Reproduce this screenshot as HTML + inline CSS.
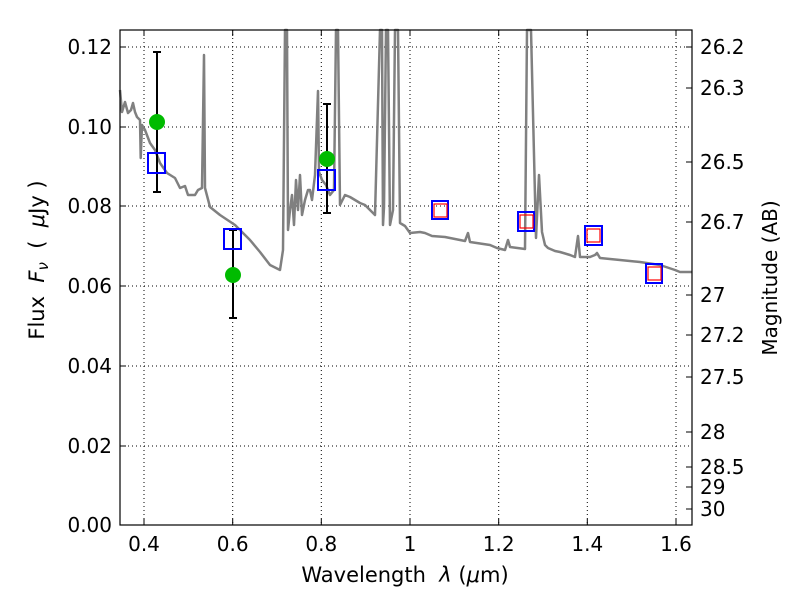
<!DOCTYPE html>
<html><head><style>body{margin:0;background:#fff}</style></head><body>
<svg width="800" height="600" xmlns="http://www.w3.org/2000/svg" font-family="DejaVu Sans, Liberation Sans, sans-serif">
<rect width="800" height="600" fill="#fff"/>
<g stroke="#000" stroke-width="1" stroke-dasharray="1,3">
<line x1="144" y1="30" x2="144" y2="525"/><line x1="232.7" y1="30" x2="232.7" y2="525"/><line x1="321.3" y1="30" x2="321.3" y2="525"/><line x1="410" y1="30" x2="410" y2="525"/><line x1="498.7" y1="30" x2="498.7" y2="525"/><line x1="587.3" y1="30" x2="587.3" y2="525"/><line x1="676" y1="30" x2="676" y2="525"/>
<line x1="120" y1="47" x2="692" y2="47"/><line x1="120" y1="127" x2="692" y2="127"/><line x1="120" y1="206" x2="692" y2="206"/><line x1="120" y1="286" x2="692" y2="286"/><line x1="120" y1="366" x2="692" y2="366"/><line x1="120" y1="446" x2="692" y2="446"/>
</g>
<polyline fill="none" stroke="#808080" stroke-width="2.5" stroke-linejoin="round" points="120,90 122,112 125,102 128,113 131,110 133,103 135,112 137,117 140,120 140.7,158 142,125 145,130 150,143 155,150 160,163 167,173 175,178 180,188 185,186 188,195 195,195 198,190 202,188 204,55 205,188 210,207 220,215 235,225 250,240 260,252 270,265 280,270 283,250 285,30 287,30 288,230 290,210 292,195 294,225 296,180 298,210 300,175 302,215 305,200 308,190 310,190 312,200 315,175 318,91 319,172 322,180 326,185 330,195 334,190 336,30 338,30 340,205 345,195 350,197 355,200 360,203 365,205 370,210 375,215 380,30 382,30 383,225 384,207 386,30 388,30 390,225 393,210 395,30 398,30 400,223 405,226 410,233 420,232 425,233 432,236 445,237 460,240 465,241 468,233 470,242 490,245 497,248 505,250 508,240 510,247 525,249 527,30 531,30 536,238 539,175 542,232 545,245 548,248 555,251 560,252 570,255 575,257 578,236 580,257 590,257 595,255 597,253 600,258 620,260 640,262 660,265 675,270 680,272 692,272"/>
<g stroke="#000" stroke-width="2">
<line x1="157" y1="52" x2="157" y2="192"/><line x1="153" y1="52" x2="161" y2="52"/><line x1="153" y1="192" x2="161" y2="192"/>
<line x1="233" y1="230" x2="233" y2="318"/><line x1="229" y1="230" x2="237" y2="230"/><line x1="229" y1="318" x2="237" y2="318"/>
<line x1="327" y1="104" x2="327" y2="213"/><line x1="323" y1="104" x2="331" y2="104"/><line x1="323" y1="213" x2="331" y2="213"/>
</g>
<g fill="#00bb00"><circle cx="157" cy="122" r="8"/><circle cx="233" cy="275" r="8"/><circle cx="327" cy="159" r="8"/></g>
<g fill="none" stroke="#00f" stroke-width="2">
<rect x="148" y="153" width="17" height="20"/><rect x="224" y="229" width="17" height="20"/><rect x="318" y="170" width="17" height="20"/>
<rect x="432" y="201" width="16" height="18"/><rect x="518" y="212" width="16" height="19"/><rect x="585" y="226" width="17" height="19"/><rect x="646" y="264" width="16" height="19"/>
</g>
<g fill="none" stroke="#f00" stroke-width="1.2">
<rect x="434" y="204" width="13" height="13"/><rect x="520" y="215" width="13" height="13"/><rect x="587" y="229" width="13" height="13"/><rect x="648" y="267" width="13" height="13"/>
</g>
<rect x="120" y="30" width="572" height="495" fill="none" stroke="#000" stroke-width="1.2"/>
<g stroke="#000" stroke-width="1">
<path d="M144,525v-6M232.7,525v-6M321.3,525v-6M410,525v-6M498.7,525v-6M587.3,525v-6M676,525v-6M144,30v6M232.7,30v6M321.3,30v6M410,30v6M498.7,30v6M587.3,30v6M676,30v6"/>
<path d="M120,47h6M120,127h6M120,206h6M120,286h6M120,366h6M120,446h6"/>
<path d="M692,47h-6M692,88h-6M692,162h-6M692,222h-6M692,295h-6M692,335h-6M692,377h-6M692,432h-6M692,467h-6M692,487h-6M692,509h-6"/>
</g>
<g font-size="20" text-anchor="end">
<text x="112" y="54">0.12</text><text x="112" y="134">0.10</text><text x="112" y="213">0.08</text><text x="112" y="293">0.06</text><text x="112" y="373">0.04</text><text x="112" y="453">0.02</text><text x="112" y="532">0.00</text>
</g>
<g font-size="20" text-anchor="middle">
<text x="144" y="551">0.4</text><text x="232.7" y="551">0.6</text><text x="321.3" y="551">0.8</text><text x="410" y="551">1</text><text x="498.7" y="551">1.2</text><text x="587.3" y="551">1.4</text><text x="676" y="551">1.6</text>
</g>
<g font-size="20">
<text x="700" y="54">26.2</text><text x="700" y="95">26.3</text><text x="700" y="169">26.5</text><text x="700" y="229">26.7</text><text x="700" y="302">27</text><text x="700" y="342">27.2</text><text x="700" y="384">27.5</text><text x="700" y="439">28</text><text x="700" y="474">28.5</text><text x="700" y="494">29</text><text x="700" y="516">30</text>
</g>
<text x="405" y="582" font-size="21" text-anchor="middle" xml:space="preserve">Wavelength  <tspan font-style="italic">λ</tspan> (<tspan font-style="italic">μ</tspan>m)</text>
<text transform="translate(44,260) rotate(-90)" font-size="21" text-anchor="middle" xml:space="preserve">Flux  <tspan font-style="italic">F</tspan><tspan font-style="italic" font-size="15" dy="4">ν</tspan><tspan dy="-4">  (  <tspan font-style="italic">μ</tspan>Jy )</tspan></text>
<text transform="translate(777,278) rotate(-90)" font-size="20" text-anchor="middle">Magnitude (AB)</text>
</svg>
</body></html>
